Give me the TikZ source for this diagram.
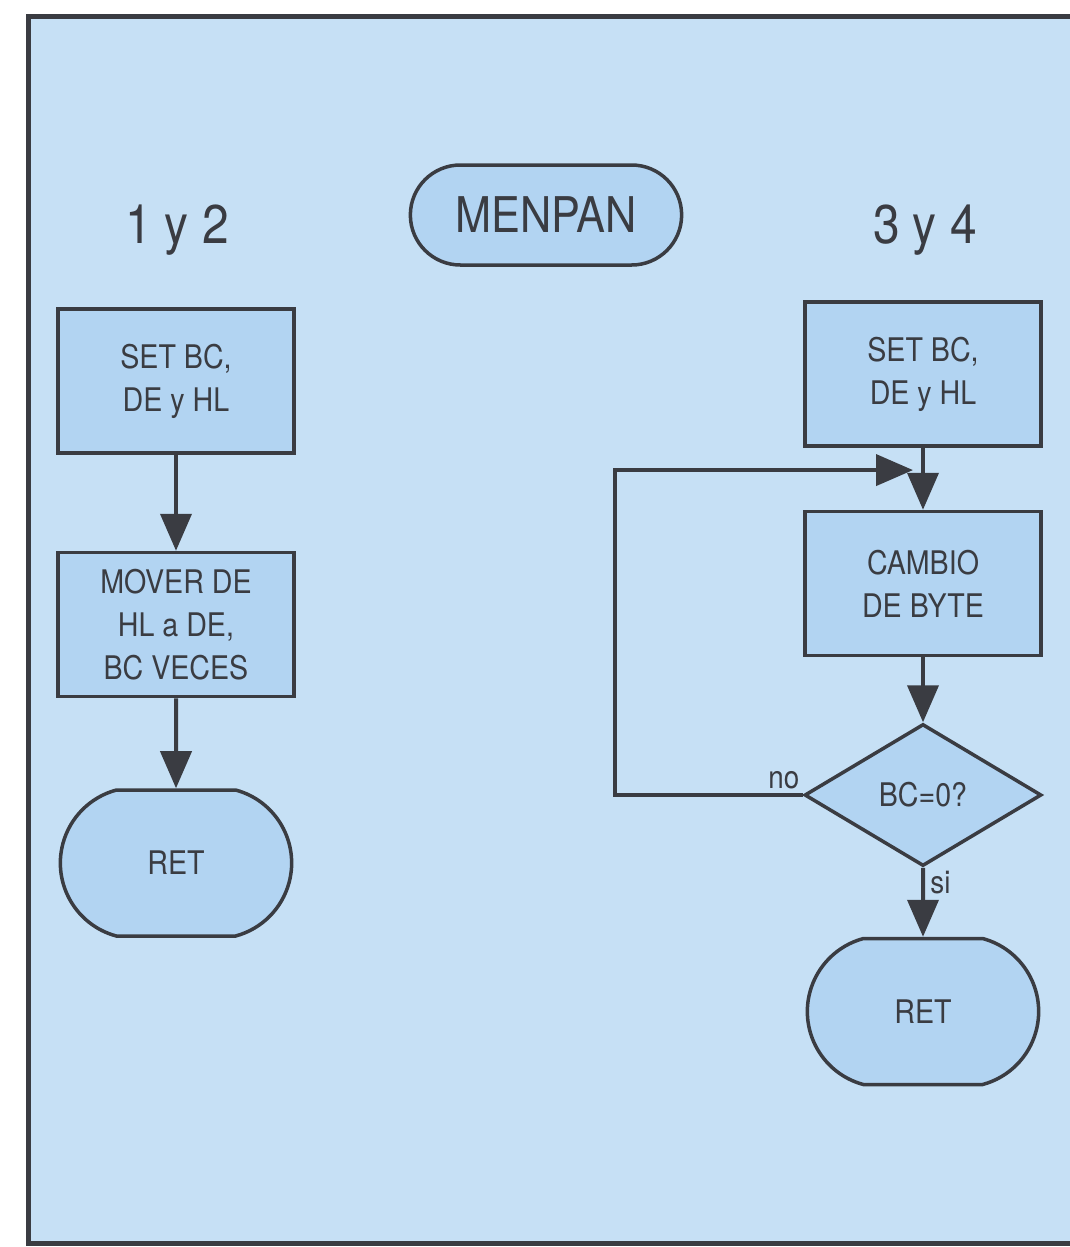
\documentclass[tikz,border=0pt]{standalone}
\usepackage{fontspec}
\setmainfont{TeX Gyre Heros}[FakeStretch=0.88]
\usepackage{xcolor}
\definecolor{paneblue}{RGB}{198,224,245}
\definecolor{boxblue}{RGB}{178,212,242}
\definecolor{inkgrey}{RGB}{58,60,66}
\usetikzlibrary{shapes.geometric, shapes.misc, arrows.meta, positioning, calc}

\begin{document}
\begin{tikzpicture}[
    x=0.2mm, y=-0.2mm,
    color=inkgrey,
    >={Triangle[length=7.4mm, width=6.2mm]},
    font=\fontsize{18.5}{24.5}\selectfont,
    procbox/.style={draw, rectangle, fill=boxblue, minimum width=47.2mm, minimum height=28.8mm, align=center, inner sep=0pt, line width=0.7mm},
    retbox/.style={draw, rounded rectangle, rounded rectangle arc length=150, fill=boxblue, minimum width=48.6mm, minimum height=29.2mm, line width=0.7mm},
    testnode/.style={draw, diamond, fill=boxblue, minimum width=47.4mm, minimum height=28.4mm, inner sep=0pt, line width=0.7mm},
    titlenode/.style={draw, rounded rectangle, fill=boxblue, minimum width=56.6mm, minimum height=20mm, line width=0.7mm, font=\fontsize{28}{30}\selectfont},
    headnode/.style={font=\fontsize{31}{34}\selectfont},
    tagnode/.style={font=\fontsize{18}{20}\selectfont, inner sep=0.6mm},
    flow/.style={->, line width=0.8mm}
  ]

  \useasboundingbox (0,0) rectangle (1070,1247);
  \path[draw=inkgrey, fill=paneblue, line width=1mm] (28,16) rectangle (1090,1243);

  \node (title) [titlenode] at (546,215) {MENPAN};
  \node (lhead) [headnode] at (177,230) {1 y 2};
  \node (rhead) [headnode] at (925,230) {3 y 4};

  \node (lset) [procbox] at (176,381) {SET BC,\\DE y HL};
  \node (lmove) [procbox, below=19.2mm of lset] {MOVER DE\\HL a DE,\\BC VECES};
  \node (lret) [retbox, below=18mm of lmove] {RET};

  \node (rset) [procbox] at (923,374) {SET BC,\\DE y HL};
  \node (rswap) [procbox, below=12.4mm of rset] {CAMBIO\\DE BYTE};
  \node (rtest) [testnode, below=13mm of rswap] {BC=0?};
  \node (rret) [retbox, below=13.8mm of rtest] {RET};

  \coordinate (rjoin) at ($(rset.south)!0.36!(rswap.north)+(-10,0)$);

  \node (nolbl) [tagnode, anchor=south east] at ([yshift=0.6mm]rtest.west) {no};
  \node (silbl) [tagnode, anchor=north west] at ([xshift=0.8mm]rtest.south) {si};

  \draw[flow] (lset) -- (lmove);
  \draw[flow] (lmove) -- (lret);
  \draw[flow] (rset) -- (rswap);
  \draw[flow] (rswap) -- (rtest);
  \draw[flow] (rtest) -- (rret);
  \draw[flow] (rtest.west) -- ++(-188,0) |- (rjoin);

\end{tikzpicture}
\end{document}
